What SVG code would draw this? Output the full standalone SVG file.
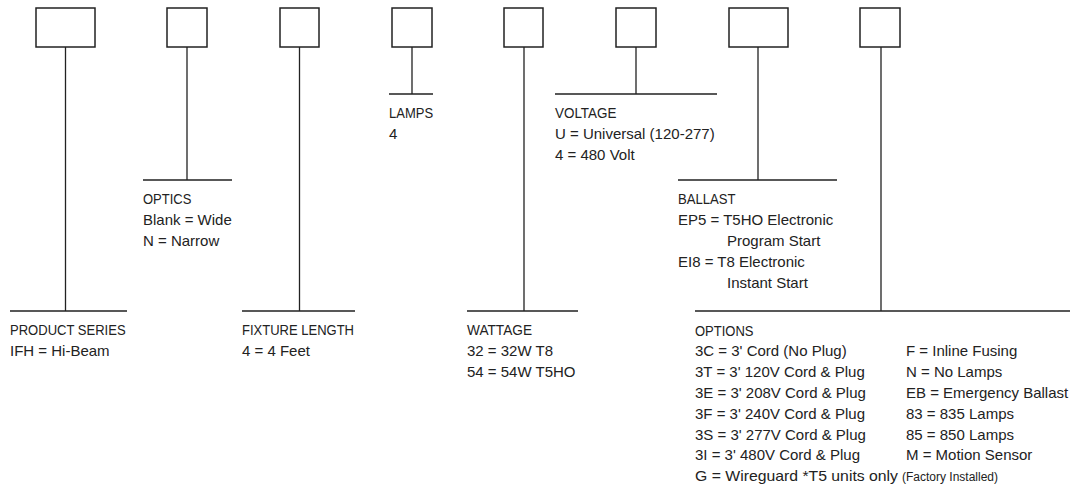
<svg xmlns="http://www.w3.org/2000/svg" width="1085" height="504" viewBox="0 0 1085 504">
<style>
.box{fill:#fff;stroke:#222;stroke-width:1.5}
.ln{stroke:#222;stroke-width:1.3;fill:none}
.h{font-family:"Liberation Sans",Arial,sans-serif;font-size:14.5px;fill:#222}
.v{font-family:"Liberation Sans",Arial,sans-serif;font-size:15px;fill:#222}
.s{font-family:"Liberation Sans",Arial,sans-serif;font-size:12px;fill:#222}
</style>
<rect width="1085" height="504" fill="#fff"/>
<g id="connectors">
<path class="ln" d="M65.5 47V311M10 311H127"/>
<path class="ln" d="M187 47V180M143 180H232"/>
<path class="ln" d="M299.5 47V311M242 311H355"/>
<path class="ln" d="M412 47V94M389 94H433"/>
<path class="ln" d="M524 47V311M467 311H578"/>
<path class="ln" d="M636 47V94M555 94H717"/>
<path class="ln" d="M758 47V180M678 180H837"/>
<path class="ln" d="M881 47V311M695 311H1070"/>
</g>
<g id="product-series">
<rect class="box" x="36" y="8" width="59" height="39"/>
<text class="h" x="10" y="335" textLength="115.6" lengthAdjust="spacingAndGlyphs">PRODUCT SERIES</text>
<text class="v" x="10" y="356">IFH = Hi-Beam</text>
</g>
<g id="optics">
<rect class="box" x="167" y="8" width="40" height="39"/>
<text class="h" x="143" y="204" textLength="48.4" lengthAdjust="spacingAndGlyphs">OPTICS</text>
<text class="v" x="143" y="225">Blank = Wide</text>
<text class="v" x="143" y="246">N = Narrow</text>
</g>
<g id="fixture-length">
<rect class="box" x="280" y="8" width="39" height="39"/>
<text class="h" x="242" y="335" textLength="112" lengthAdjust="spacingAndGlyphs">FIXTURE LENGTH</text>
<text class="v" x="242" y="356">4 = 4 Feet</text>
</g>
<g id="lamps">
<rect class="box" x="392" y="8" width="40" height="39"/>
<text class="h" x="389" y="118" textLength="44.1" lengthAdjust="spacingAndGlyphs">LAMPS</text>
<text class="v" x="389" y="139">4</text>
</g>
<g id="wattage">
<rect class="box" x="504" y="8" width="39" height="39"/>
<text class="h" x="467" y="335" textLength="65" lengthAdjust="spacingAndGlyphs">WATTAGE</text>
<text class="v" x="467" y="356">32 = 32W T8</text>
<text class="v" x="467" y="377">54 = 54W T5HO</text>
</g>
<g id="voltage">
<rect class="box" x="616" y="8" width="40" height="39"/>
<text class="h" x="555" y="118" textLength="61.4" lengthAdjust="spacingAndGlyphs">VOLTAGE</text>
<text class="v" x="555" y="139">U = Universal (120-277)</text>
<text class="v" x="555" y="160">4 = 480 Volt</text>
</g>
<g id="ballast">
<rect class="box" x="729" y="8" width="59" height="39"/>
<text class="h" x="678" y="204" textLength="57.5" lengthAdjust="spacingAndGlyphs">BALLAST</text>
<text class="v" x="678" y="225">EP5 = T5HO Electronic</text>
<text class="v" x="727" y="246">Program Start</text>
<text class="v" x="678" y="267">EI8 = T8 Electronic</text>
<text class="v" x="727" y="288">Instant Start</text>
</g>
<g id="options">
<rect class="box" x="860" y="8" width="40" height="39"/>
<text class="h" x="695" y="336" textLength="58.5" lengthAdjust="spacingAndGlyphs">OPTIONS</text>
<text class="v" x="695" y="356">3C = 3' Cord (No Plug)</text>
<text class="v" x="695" y="377">3T = 3' 120V Cord &amp; Plug</text>
<text class="v" x="695" y="398">3E = 3' 208V Cord &amp; Plug</text>
<text class="v" x="695" y="419">3F = 3' 240V Cord &amp; Plug</text>
<text class="v" x="695" y="440">3S = 3' 277V Cord &amp; Plug</text>
<text class="v" x="695" y="460">3I = 3' 480V Cord &amp; Plug</text>
<text class="v" x="695" y="481" textLength="203" lengthAdjust="spacingAndGlyphs">G = Wireguard *T5 units only</text>
<text class="s" x="902" y="481">(Factory Installed)</text>
<text class="v" x="906" y="356">F = Inline Fusing</text>
<text class="v" x="906" y="377">N = No Lamps</text>
<text class="v" x="906" y="398">EB = Emergency Ballast</text>
<text class="v" x="906" y="419">83 = 835 Lamps</text>
<text class="v" x="906" y="440">85 = 850 Lamps</text>
<text class="v" x="906" y="460">M = Motion Sensor</text>
</g>
</svg>
